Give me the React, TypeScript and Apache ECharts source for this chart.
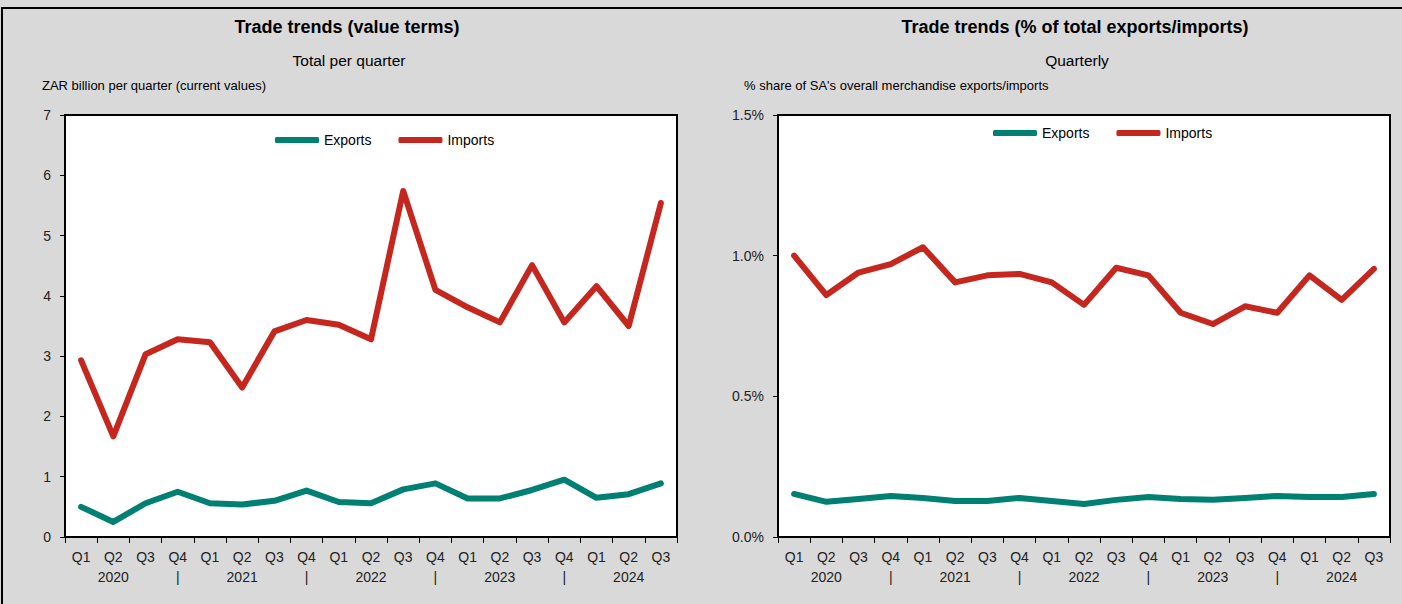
import React, { useEffect, useRef } from "react";
import * as echarts from "echarts";

const quarters = ["Q1", "Q2", "Q3", "Q4", "Q1", "Q2", "Q3", "Q4", "Q1", "Q2", "Q3", "Q4", "Q1", "Q2", "Q3", "Q4", "Q1", "Q2", "Q3"];
const yearRow = ["", "2020", "", "|", "", "2021", "", "|", "", "2022", "", "|", "", "2023", "", "|", "", "2024", ""];

const exportsValue = [0.5, 0.25, 0.56, 0.75, 0.56, 0.54, 0.6, 0.77, 0.58, 0.56, 0.79, 0.89, 0.64, 0.64, 0.78, 0.95, 0.65, 0.71, 0.89];
const importsValue = [2.93, 1.67, 3.03, 3.28, 3.23, 2.48, 3.41, 3.6, 3.52, 3.28, 5.74, 4.1, 3.81, 3.56, 4.51, 3.56, 4.16, 3.5, 5.54];

const exportsShare = [0.153, 0.125, 0.135, 0.146, 0.139, 0.128, 0.128, 0.139, 0.128, 0.117, 0.132, 0.142, 0.135, 0.132, 0.139, 0.146, 0.142, 0.142, 0.153];
const importsShare = [1.0, 0.86, 0.94, 0.97, 1.03, 0.905, 0.93, 0.935, 0.905, 0.825, 0.957, 0.93, 0.797, 0.757, 0.82, 0.797, 0.93, 0.843, 0.953];

const leftTitle = "Trade trends (value terms)";
const leftSubtitle = "Total per quarter";
const leftUnit = "ZAR billion per quarter (current values)";
const rightTitle = "Trade trends (% of total exports/imports)";
const rightSubtitle = "Quarterly";
const rightUnit = "% share of SA's overall merchandise exports/imports";

const TEAL = "#007f73";
const RED = "#c5271f";
const FONT = "'Liberation Sans Narrow', 'Liberation Sans', Arial, sans-serif";

export default function App() {
  const ref = useRef<HTMLDivElement>(null);
  useEffect(() => {
    document.body.style.margin = "0";
    const chart = echarts.init(ref.current!, null, { renderer: "svg" });
    const xLabels = quarters.map((q, i) => q + "\n" + yearRow[i]);
    const xAxisBase = (gridIndex: number) => ({
      type: "category" as const,
      gridIndex,
      data: xLabels,
      boundaryGap: true,
      axisLine: { lineStyle: { color: "#000", width: 2 } },
      axisTick: { show: true, length: 6, lineStyle: { color: "#000", width: 1 } },
      axisLabel: { color: "#222", fontSize: 14, fontFamily: FONT, lineHeight: 20, margin: 10, interval: 0 },
    });
    const lineSeries = (name: string, data: number[], color: string, idx: number) => ({
      name,
      type: "line" as const,
      xAxisIndex: idx,
      yAxisIndex: idx,
      data,
      symbol: "none",
      lineStyle: { color, width: 6, cap: "round", join: "round" },
      itemStyle: { color },
    });
    const legendBase = {
      data: ["Exports", "Imports"],
      icon: "roundRect",
      itemWidth: 44,
      itemHeight: 6,
      itemGap: 27,
      padding: 0,
      textStyle: { color: "#000", fontSize: 14, fontFamily: FONT },
      selectedMode: false,
    };
    const yLabel = { color: "#222", fontSize: 14, fontFamily: FONT, margin: 14 };
    chart.setOption({
      animation: false,
      backgroundColor: "#d9d9d9",
      textStyle: { fontFamily: FONT },
      grid: [
        { left: 65, top: 115, width: 612, height: 422, show: true, backgroundColor: "#fff", borderColor: "#000", borderWidth: 2 },
        { left: 778, top: 115, width: 612, height: 422, show: true, backgroundColor: "#fff", borderColor: "#000", borderWidth: 2 },
      ],
      legend: [
        { ...legendBase, left: 275, top: 133 },
        { ...legendBase, left: 993, top: 126 },
      ],
      xAxis: [xAxisBase(0), xAxisBase(1)],
      yAxis: [
        {
          type: "value",
          gridIndex: 0,
          min: 0,
          max: 7,
          interval: 1,
          splitLine: { show: false },
          axisLine: { show: true, lineStyle: { color: "#000", width: 2 } },
          axisTick: { show: true, length: 5, lineStyle: { color: "#000" } },
          axisLabel: yLabel,
        },
        {
          type: "value",
          gridIndex: 1,
          min: 0,
          max: 1.5,
          interval: 0.5,
          splitLine: { show: false },
          axisLine: { show: true, lineStyle: { color: "#000", width: 2 } },
          axisTick: { show: true, length: 5, lineStyle: { color: "#000" } },
          axisLabel: { ...yLabel, formatter: (v: number) => v.toFixed(1) + "%" },
        },
      ],
      series: [
        lineSeries("Exports", exportsValue, TEAL, 0),
        lineSeries("Imports", importsValue, RED, 0),
        lineSeries("Exports", exportsShare, TEAL, 1),
        lineSeries("Imports", importsShare, RED, 1),
      ],
      graphic: [
        { type: "rect", z: -1, shape: { x: 2, y: 8, width: 1420, height: 620 }, style: { fill: "none", stroke: "#000", lineWidth: 2 } },
        { type: "text", x: 347, y: 27, style: { text: leftTitle, fontSize: 18, fontWeight: "bold", fontFamily: FONT, fill: "#000", textAlign: "center", textVerticalAlign: "middle" } },
        { type: "text", x: 349, y: 60, style: { text: leftSubtitle, fontSize: 15.5, fontFamily: FONT, fill: "#000", textAlign: "center", textVerticalAlign: "middle" } },
        { type: "text", x: 42, y: 85, style: { text: leftUnit, fontSize: 13, fontFamily: FONT, fill: "#000", textAlign: "left", textVerticalAlign: "middle" } },
        { type: "text", x: 1075, y: 27, style: { text: rightTitle, fontSize: 18, fontWeight: "bold", fontFamily: FONT, fill: "#000", textAlign: "center", textVerticalAlign: "middle" } },
        { type: "text", x: 1077, y: 60, style: { text: rightSubtitle, fontSize: 15.5, fontFamily: FONT, fill: "#000", textAlign: "center", textVerticalAlign: "middle" } },
        { type: "text", x: 744, y: 85, style: { text: rightUnit, fontSize: 13, fontFamily: FONT, fill: "#000", textAlign: "left", textVerticalAlign: "middle" } },
      ],
    });
    return () => chart.dispose();
  }, []);
  return <div ref={ref} style={{ width: 1402, height: 604 }} />;
}
